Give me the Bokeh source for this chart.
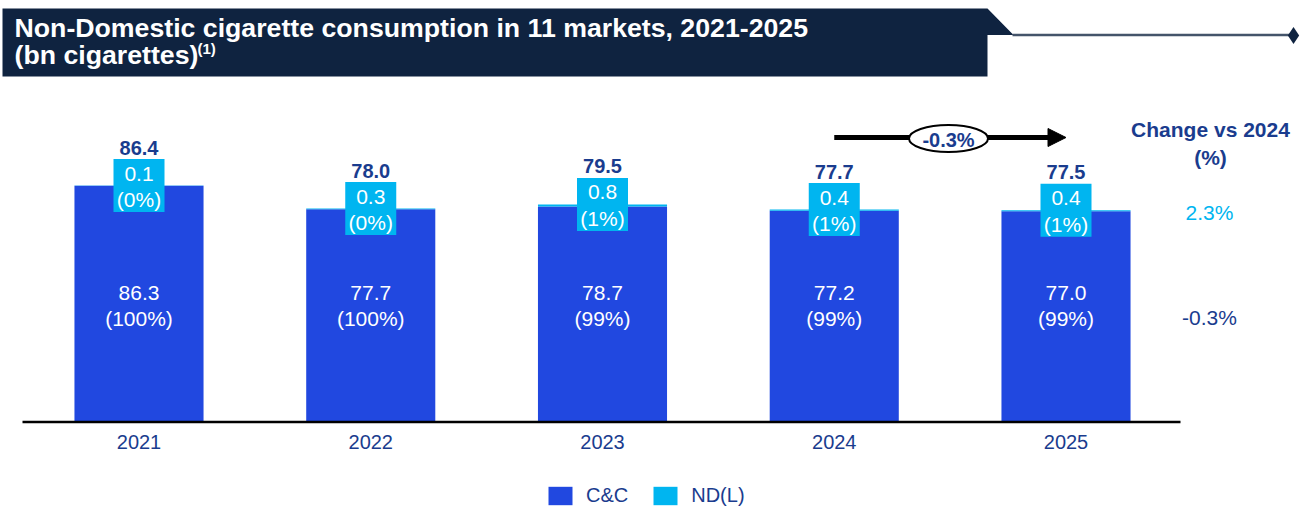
from bokeh.plotting import figure
from bokeh.models import Range1d, ColumnDataSource, Arrow, NormalHead, Legend, LegendItem
from bokeh.core.properties import value
from bokeh.embed import file_html
from bokeh.resources import INLINE

# ---------------- data ----------------
years = ["2021", "2022", "2023", "2024", "2025"]
cc = [86.3, 77.7, 78.7, 77.2, 77.0]
nd = [0.1, 0.3, 0.8, 0.4, 0.4]
totals = [86.4, 78.0, 79.5, 77.7, 77.5]
cc_share = ["(100%)", "(100%)", "(99%)", "(99%)", "(99%)"]
nd_share = ["(0%)", "(0%)", "(1%)", "(1%)", "(1%)"]
series_names = ["C&C", "ND(L)"]
change_title = ["Change vs 2024", "(%)"]
change_labels = ["2.3%", "-0.3%"]
cagr_label = "-0.3%"
title_lines = ["Non-Domestic cigarette consumption in 11 markets, 2021-2025", "(bn cigarettes)"]
title_note = "(1)"

# ---------------- styles ----------------
FONT_NAME = "Liberation Sans"
FONT = value(FONT_NAME)
BLUE = "#2148E0"
LIGHT = "#00B5F0"
NAVY = "#1A3C8E"
BANNER = "#0F2340"

W, H = 1307, 507
PAD = 0
SPACING = 231.75
C0 = 138.5 - PAD
BASE = 421.5 - PAD
PPU = 2.737

def X(px):
    return (px - PAD - C0) / SPACING

def Y(py):
    return (BASE - (py - PAD)) / PPU

p = figure(width=W, height=H, output_backend="svg", toolbar_location=None,
           x_range=Range1d(X(PAD), X(PAD + W)), y_range=Range1d(Y(PAD + H), Y(PAD)),
           min_border=0, outline_line_color=None, background_fill_color="white",
           border_fill_color="white")
p.axis.visible = False
p.grid.visible = False

xs = list(range(len(years)))
tops = [a + b for a, b in zip(cc, nd)]
src = ColumnDataSource(dict(x=xs, cc=cc, nd=nd, top=tops, year=years,
                            tot=[f"{t:.1f}" for t in totals],
                            ccv=[f"{v:.1f}" for v in cc], ndv=[f"{v:.1f}" for v in nd],
                            ccs=cc_share, nds=nd_share))

bars = p.vbar_stack(["cc", "nd"], x="x", width=0.557, color=[BLUE, LIGHT], source=src,
                    line_color=None)

# ND label boxes
p.rect(x="x", y="top", width=51, height=53, width_units="screen", height_units="screen",
       fill_color=LIGHT, line_color=None, source=src)

common = dict(text_font=FONT, text_align="center", text_baseline="middle")
p.text(x="x", y="top", text="tot", y_offset=-38, text_font_size="20px",
       text_font_style="bold", text_color=NAVY, source=src, **common)
p.text(x="x", y="top", text="ndv", y_offset=-12, text_font_size="21px",
       text_color="white", source=src, **common)
p.text(x="x", y="top", text="nds", y_offset=14, text_font_size="21px",
       text_color="white", source=src, **common)

# C&C labels (fixed height inside bars)
p.text(x="x", y=Y(292), text="ccv", text_font_size="21px", text_color="white", source=src, **common)
p.text(x="x", y=Y(318), text="ccs", text_font_size="21px", text_color="white", source=src, **common)

# baseline axis
p.segment(x0=X(22), y0=0, x1=X(1180), y1=0, line_color="black", line_width=2.5)
p.text(x="x", y=Y(441.5), text="year", text_font_size="20px", text_color=NAVY, source=src, **common)

# CAGR arrow
p.add_layout(Arrow(end=NormalHead(size=18, fill_color="black", line_color="black"),
                   x_start=3, y_start=Y(137), x_end=4, y_end=Y(137),
                   line_width=5, line_color="black", level="underlay"))
p.ellipse(x=[X(948)], y=[Y(138)], width=79, height=27, width_units="screen",
          height_units="screen", fill_color="white", line_color="black", line_width=2)
p.text(x=[X(948)], y=[Y(139)], text=[cagr_label], text_font_size="20px",
       text_font_style="bold", text_color=NAVY, **common)

# Change column
p.text(x=[X(1210), X(1210)], y=[Y(129), Y(157)], text=change_title, text_font_size="21px",
       text_font_style="bold", text_color=NAVY, **common)
p.text(x=[X(1209)], y=[Y(212)], text=[change_labels[0]], text_font_size="21px",
       text_color=LIGHT, **common)
p.text(x=[X(1209)], y=[Y(317)], text=[change_labels[1]], text_font_size="21px",
       text_color=NAVY, **common)

# title banner
p.patch(x=[X(2), X(987), X(1013), X(987), X(987), X(2)],
        y=[Y(8), Y(8), Y(34.5), Y(34.5), Y(76), Y(76)], fill_color=BANNER, line_color=None)
p.segment(x0=X(1012), y0=Y(34.5), x1=X(1290), y1=Y(34.5), line_color="#44546a", line_width=2.5)
p.scatter(x=[X(1293)], y=[Y(35)], marker="diamond", size=17, fill_color=BANNER, line_color=None)
title_kw = dict(text_font=FONT, text_font_style="bold", text_color="white",
                text_align="left", text_baseline="middle")
p.text(x=[X(14)], y=[Y(27)], text=[title_lines[0]], text_font_size="26.7px", **title_kw)
p.text(x=[X(14)], y=[Y(54)], text=[title_lines[1]], text_font_size="26.7px", **title_kw)
p.text(x=[X(197)], y=[Y(48)], text=[title_note], text_font_size="15px", **title_kw)

legend = Legend(items=[LegendItem(label=series_names[0], renderers=[bars[0]]),
                       LegendItem(label=series_names[1], renderers=[bars[1]])],
                orientation="horizontal", location=(545, 0), glyph_width=30, glyph_height=23,
                label_standoff=11, spacing=22, padding=0, margin=0, border_line_color=None,
                background_fill_alpha=0, label_text_font=FONT_NAME, label_text_font_size="20px",
                label_text_color=NAVY, label_height=23)
p.add_layout(legend)

open("out.html", "w").write(file_html(p, INLINE))
